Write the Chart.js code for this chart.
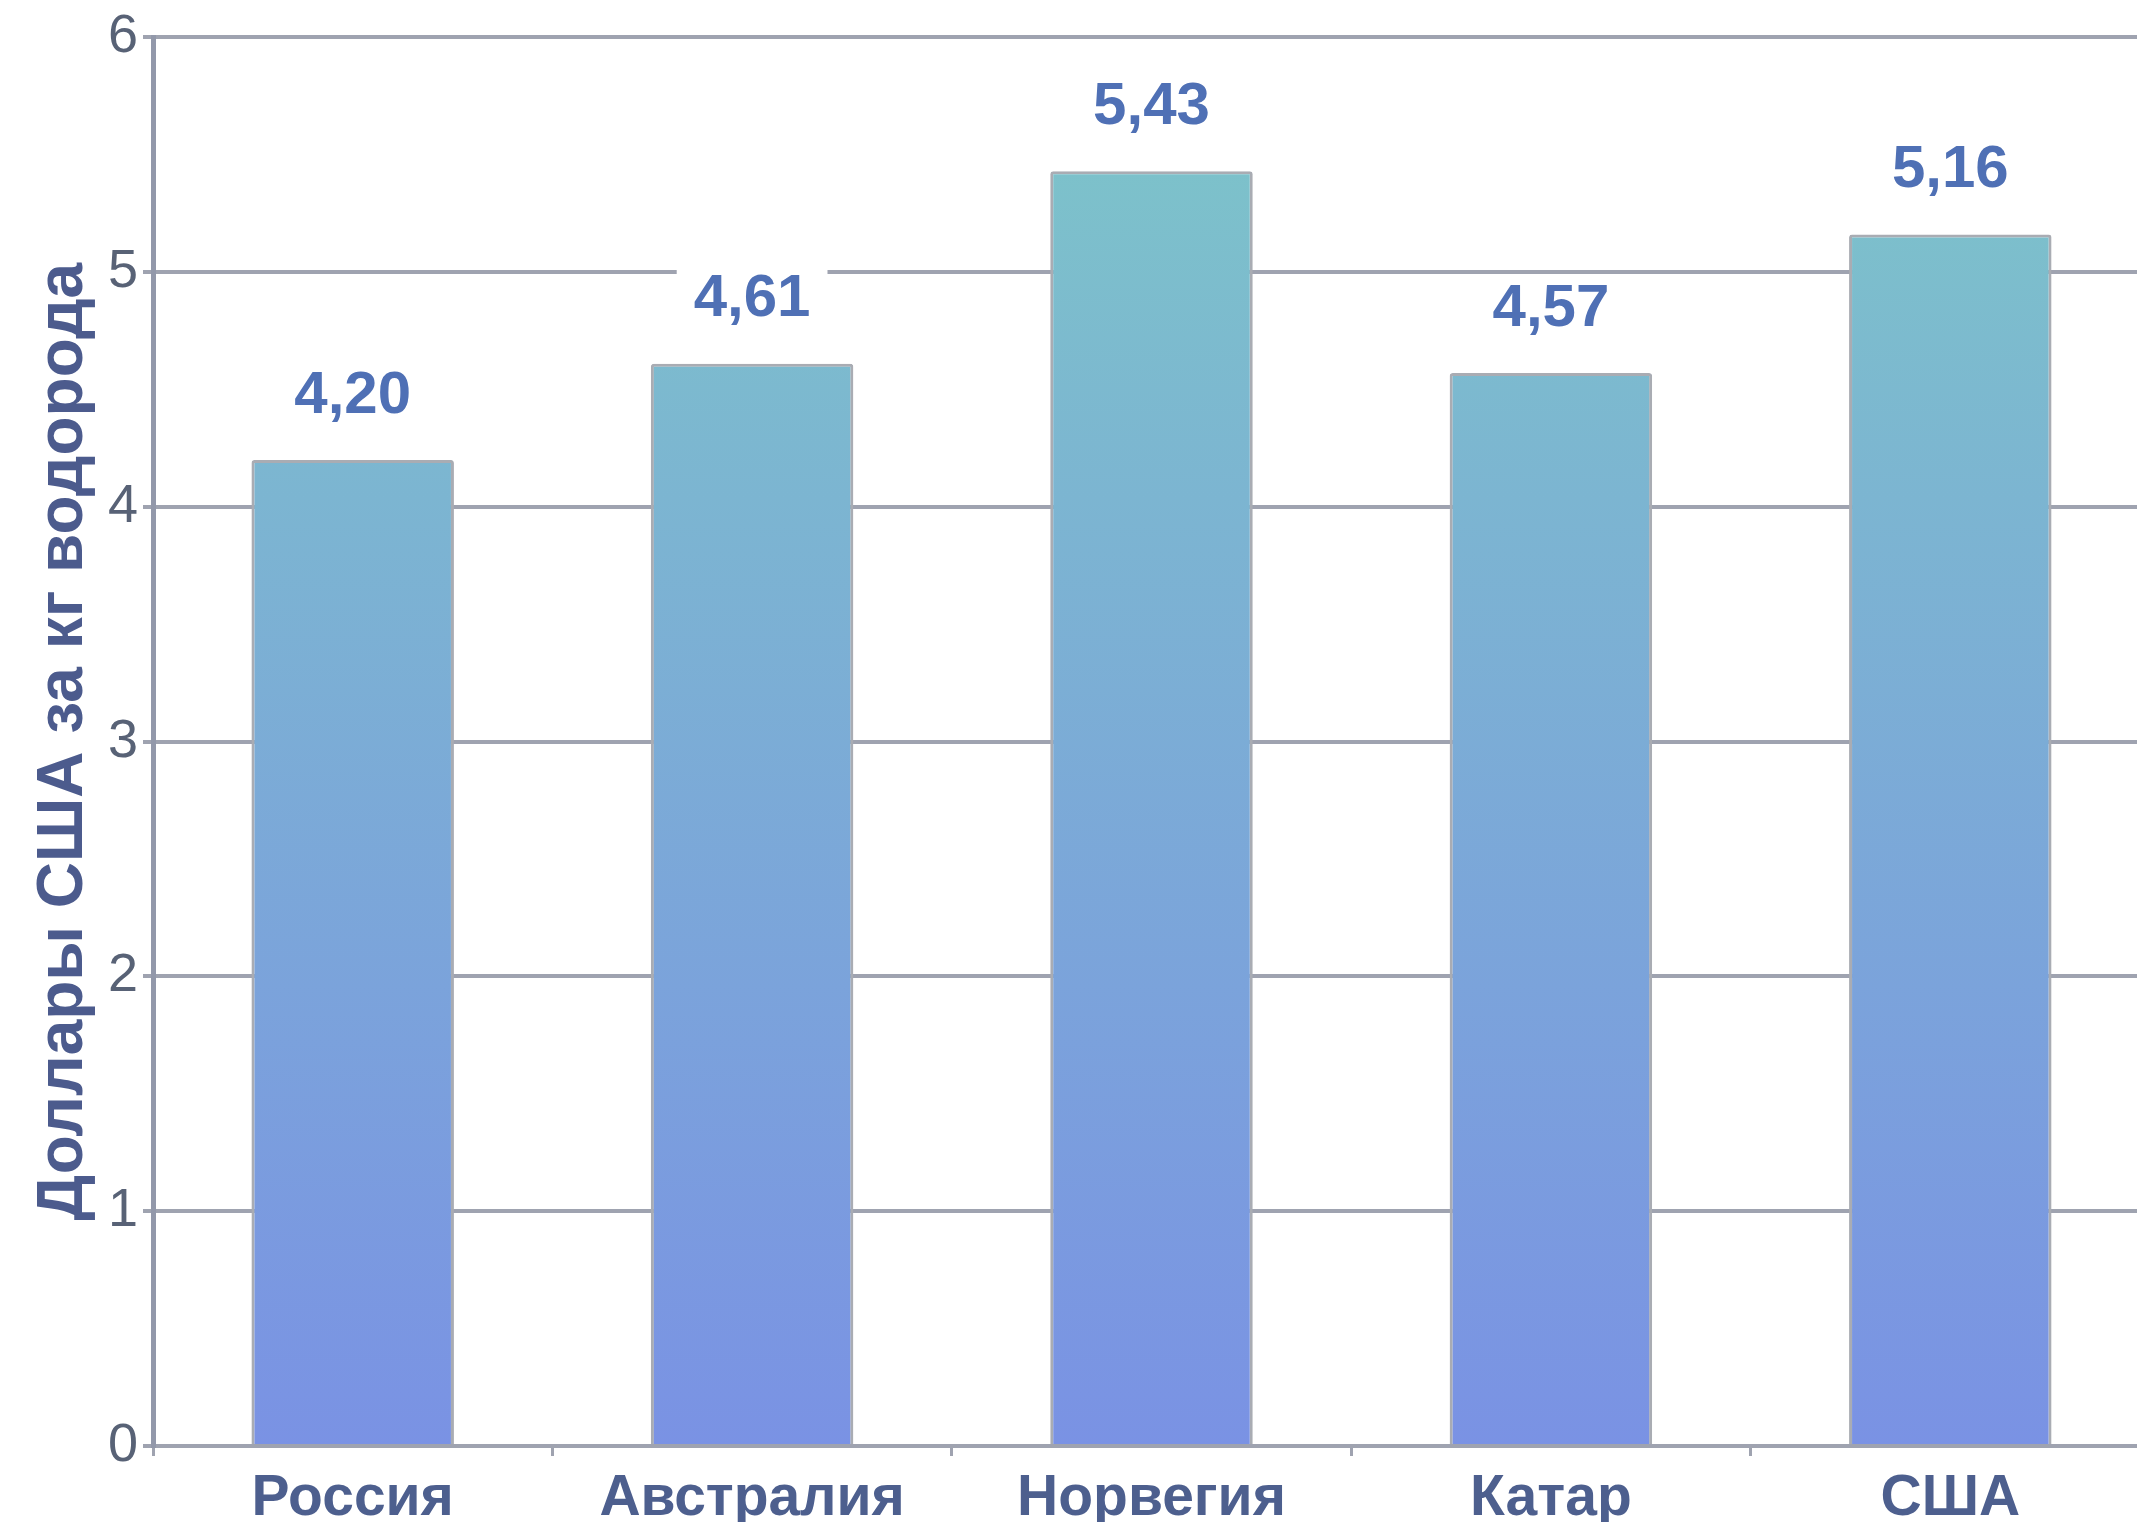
<!DOCTYPE html>
<html lang="ru">
<head>
    <meta charset="UTF-8">
    <title>Стоимость водорода</title>
    <script src="https://cdn.jsdelivr.net/npm/chart.js@4.4.0/dist/chart.umd.min.js"></script>
    <style>
        html, body { margin: 0; padding: 0; background: #fff; overflow: hidden; }
        #wrap { width: 2150px; height: 1522px; }
    </style>
</head>
<body>
    <div id="wrap">
        <canvas id="priceChart" width="2150" height="1522"></canvas>
    </div>
    <script>
        // data
        const countries = ["Россия", "Австралия", "Норвегия", "Катар", "США"]
        const prices = [4.20, 4.61, 5.43, 4.57, 5.16]
        const priceLabels = ["4,20", "4,61", "5,43", "4,57", "5,16"]
        const yTicks = [0, 1, 2, 3, 4, 5, 6]
        const yTitle = "Доллары США за кг водорода"

        const gridColor = "#9fa3b0"
        const fontFamily = "'Liberation Sans', Arial, sans-serif"

        // vertical gradient for every bar, teal on top, blue at the base
        function barGradient(context) {
            const area = context.chart.chartArea
            if (!area) return "#7ea9d8"
            const g = context.chart.ctx.createLinearGradient(0, area.top, 0, area.bottom)
            g.addColorStop(0, "#7dc6c8")
            g.addColorStop(1, "#7a92e4")
            return g
        }

        // value labels above the bars, on a white box
        const valueLabels = {
            id: "valueLabels",
            afterDatasetsDraw(chart) {
                const ctx = chart.ctx
                const meta = chart.getDatasetMeta(0)
                ctx.save()
                ctx.font = "bold 60px " + fontFamily
                ctx.textAlign = "center"
                ctx.textBaseline = "middle"
                meta.data.forEach((bar, i) => {
                    const text = priceLabels[i]
                    const w = ctx.measureText(text).width + 34
                    const y = bar.y - 64
                    ctx.fillStyle = "#ffffff"
                    ctx.fillRect(bar.x - w / 2, y - 34, w, 68)
                    ctx.fillStyle = "#4f70b5"
                    ctx.fillText(text, bar.x, y)
                })
                ctx.restore()
            }
        }

        new Chart(document.getElementById("priceChart").getContext("2d"), {
            type: "bar",
            data: {
                labels: countries,
                datasets: [{
                    data: prices,
                    backgroundColor: barGradient,
                    borderColor: "#a9acb3",
                    borderWidth: 3,
                    borderSkipped: "start",
                    borderRadius: 3,
                    barPercentage: 0.6,
                    categoryPercentage: 0.845
                }]
            },
            options: {
                responsive: false,
                animation: false,
                layout: { padding: { top: 36, left: 0, right: 0, bottom: 0 } },
                plugins: {
                    legend: { display: false },
                    tooltip: { enabled: false }
                },
                scales: {
                    x: {
                        grid: {
                            offset: true,
                            drawOnChartArea: false,
                            drawTicks: true,
                            tickLength: 10,
                            color: gridColor,
                            lineWidth: 3
                        },
                        border: { display: true, color: gridColor, width: 4 },
                        ticks: {
                            color: "#4d5f8e",
                            padding: 9,
                            font: { family: fontFamily, size: 57, weight: "bold" }
                        },
                        afterFit(scale) { scale.height = 76 }
                    },
                    y: {
                        min: 0,
                        max: 6,
                        afterBuildTicks(scale) {
                            scale.ticks = yTicks.map(v => ({ value: v }))
                        },
                        grid: {
                            color: gridColor,
                            lineWidth: 4,
                            tickLength: 10,
                            drawTicks: true
                        },
                        border: { display: true, color: "#9298aa", width: 5 },
                        ticks: {
                            color: "#586276",
                            padding: 5,
                            font: { family: fontFamily, size: 54 }
                        },
                        title: {
                            display: true,
                            text: yTitle,
                            color: "#4c5b8d",
                            padding: { top: 26, bottom: 0 },
                            font: { family: fontFamily, size: 64, weight: "bold" }
                        },
                        afterFit(scale) { scale.width = 153 }
                    }
                }
            },
            plugins: [valueLabels]
        })
    </script>
</body>
</html>
